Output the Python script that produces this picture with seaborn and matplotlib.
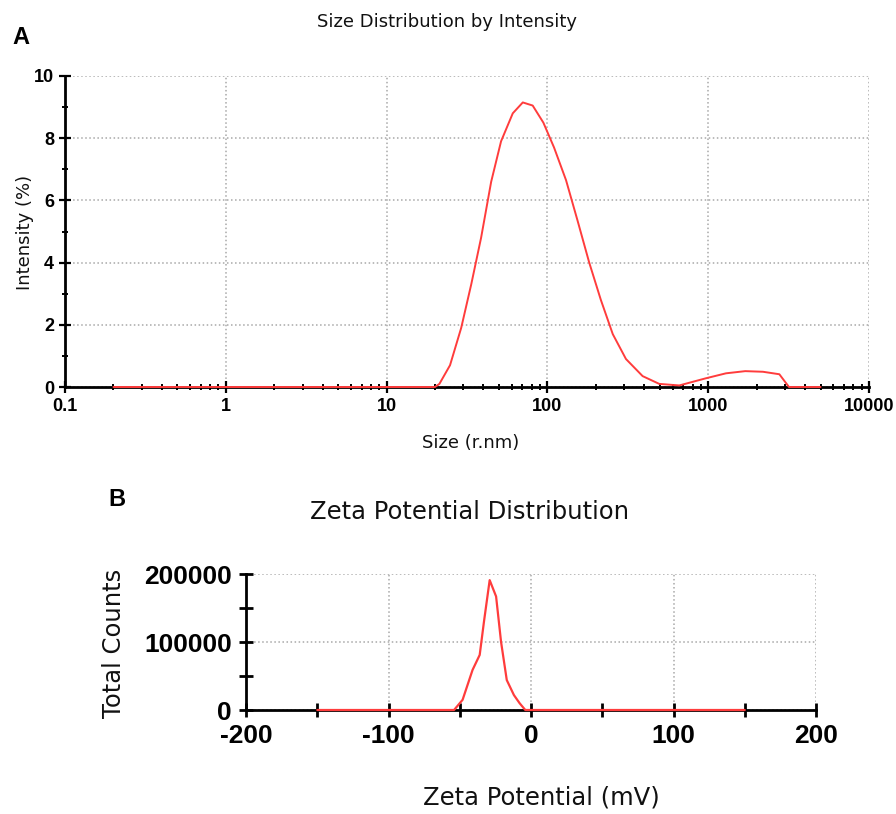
import numpy as np
import pandas as pd
import matplotlib
matplotlib.use('Agg')
import matplotlib.pyplot as plt
import seaborn as sns
from matplotlib.ticker import MultipleLocator, LogLocator, NullFormatter, FixedLocator

# Panel A: size distribution by intensity
size_nm = [0.2, 20, 21.3, 24.8, 29.1, 33.6, 38.7, 44.7, 51.5, 60.9, 70.3, 81, 94.4,
           110, 130.6, 154, 182, 215, 255, 308, 391, 496, 661, 967, 1290, 1700,
           2190, 2770, 3180, 5000]
intensity = [0, 0, 0.1, 0.7, 1.9, 3.3, 4.8, 6.6, 7.9, 8.8, 9.15, 9.05, 8.5,
             7.7, 6.65, 5.35, 4.0, 2.8, 1.7, 0.9, 0.35, 0.1, 0.05, 0.28, 0.44, 0.51,
             0.49, 0.41, 0, 0]
size_ticks = [0.1, 1, 10, 100, 1000, 10000]
size_ticklabels = ['0.1', '1', '10', '100', '1000', '10000']

# Panel B: zeta potential distribution
zeta_mv = [-150, -54, -48, -41, -36, -33, -29, -24.5, -21, -17, -12, -8, -4, 150]
counts = [0, 0, 15000, 59000, 81000, 130000, 191000, 167000, 100000, 44000, 22000,
          10000, 0, 0]
zeta_ticks = [-200, -100, 0, 100, 200]

df_a = pd.DataFrame({'size': size_nm, 'intensity': intensity})
df_b = pd.DataFrame({'zeta': zeta_mv, 'counts': counts})

sns.set_style('white')
plt.rcParams['font.family'] = ['Liberation Sans', 'DejaVu Sans']
plt.rcParams['axes.unicode_minus'] = False
label_font = ['DejaVu Sans']
red = '#ff3c3c'

fig = plt.figure(figsize=(8.96, 8.14), dpi=100)
ax_a = fig.add_axes([65 / 896, 1 - 387 / 814, (869 - 65) / 896, (387 - 76) / 814])
ax_b = fig.add_axes([246 / 896, 1 - 710 / 814, (816 - 246) / 896, (710 - 574) / 814])

# --- Panel A
sns.lineplot(data=df_a, x='size', y='intensity', ax=ax_a, color=red, linewidth=1.4,
             clip_on=False, zorder=5)
ax_a.set_xscale('log')
ax_a.set_xlim(0.1, 10000)
ax_a.set_ylim(0, 10)
ax_a.xaxis.set_major_locator(FixedLocator(size_ticks))
ax_a.set_xticklabels(size_ticklabels)
ax_a.xaxis.set_minor_locator(LogLocator(base=10, subs=np.arange(2, 10), numticks=20))
ax_a.xaxis.set_minor_formatter(NullFormatter())
ax_a.yaxis.set_major_locator(MultipleLocator(2))
ax_a.yaxis.set_minor_locator(MultipleLocator(1))
ax_a.tick_params(axis='both', which='major', direction='inout', length=8, width=1.6,
                 labelsize=13, pad=4)
ax_a.tick_params(axis='both', which='minor', direction='inout', length=5, width=1.4)
ax_a.set_xlabel('')
ax_a.set_ylabel('')

# --- Panel B
sns.lineplot(data=df_b, x='zeta', y='counts', ax=ax_b, color=red, linewidth=1.6,
             clip_on=False, zorder=5)
ax_b.set_xlim(-200, 200)
ax_b.set_ylim(0, 200000)
ax_b.xaxis.set_major_locator(FixedLocator(zeta_ticks))
ax_b.xaxis.set_minor_locator(MultipleLocator(50))
ax_b.yaxis.set_major_locator(MultipleLocator(100000))
ax_b.yaxis.set_minor_locator(MultipleLocator(50000))
ax_b.tick_params(axis='both', which='major', direction='inout', length=10, width=2,
                 labelsize=19, pad=5)
ax_b.tick_params(axis='both', which='minor', direction='inout', length=10, width=2)
ax_b.set_xlabel('')
ax_b.set_ylabel('')

for ax in (ax_a, ax_b):
    ax.tick_params(which='both', bottom=True, left=True, top=False, right=False,
                   colors='black', labelcolor='black')
    for lbl in ax.get_xticklabels() + ax.get_yticklabels():
        lbl.set_fontweight('bold')
    ax.grid(True, which='major', linestyle=':', color='#a8a8a8', linewidth=1.1)
    ax.spines['top'].set_visible(False)
    ax.spines['right'].set_visible(False)
    ax.spines['left'].set_linewidth(2)
    ax.spines['bottom'].set_linewidth(2)
    ax.spines['left'].set_color('black')
    ax.spines['bottom'].set_color('black')

# Titles and labels
fig.text(21 / 896, 1 - 38 / 814, 'A', fontsize=17, fontweight='bold', ha='center',
         va='center', color='black')
fig.text(447 / 896, 1 - 22 / 814, 'Size Distribution by Intensity', fontsize=13,
         family=label_font, ha='center', va='center', color='#111111')
fig.text(471 / 896, 1 - 443 / 814, 'Size (r.nm)', fontsize=13, family=label_font,
         ha='center', va='center', color='#111111')
fig.text(25 / 896, 1 - 232 / 814, 'Intensity (%)', fontsize=13, family=label_font,
         rotation=90, ha='center', va='center', color='#111111')

fig.text(117 / 896, 1 - 500 / 814, 'B', fontsize=17, fontweight='bold', ha='center',
         va='center', color='black')
fig.text(469 / 896, 1 - 512 / 814, 'Zeta Potential Distribution', fontsize=17.5,
         family=label_font, ha='center', va='center', color='#111111')
fig.text(541 / 896, 1 - 797 / 814, 'Zeta Potential (mV)', fontsize=17.5, family=label_font,
         ha='center', va='center', color='#111111')
fig.text(114 / 896, 1 - 643 / 814, 'Total Counts', fontsize=17.5, family=label_font,
         rotation=90, ha='center', va='center', color='#111111')

fig.savefig('out.png', dpi=100)
